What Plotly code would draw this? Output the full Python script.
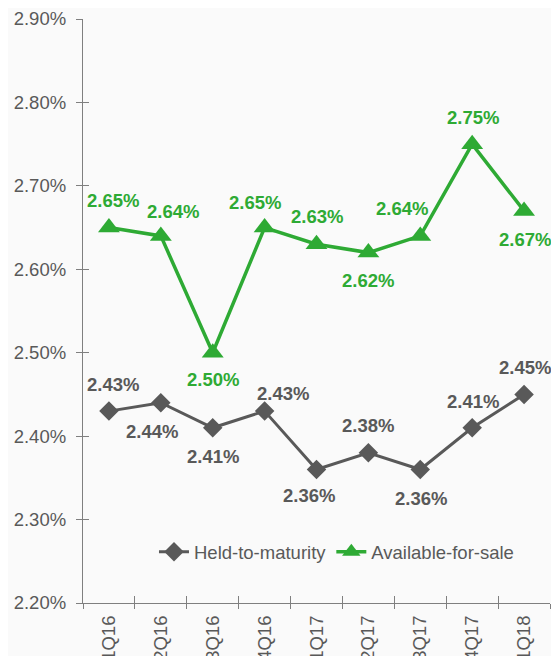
import plotly.graph_objects as go

quarters = ["1Q16", "2Q16", "3Q16", "4Q16", "1Q17", "2Q17", "3Q17", "4Q17", "1Q18"]
held_to_maturity = [2.43, 2.44, 2.41, 2.43, 2.36, 2.38, 2.36, 2.41, 2.45]
available_for_sale = [2.65, 2.64, 2.50, 2.65, 2.63, 2.62, 2.64, 2.75, 2.67]

# label placement (style): pixel nudges of each value label relative to its marker
afs_dx = [4, 12, 0, -10, 0, 0, -18, 1, 1]
afs_dy = [27, 24, -27, 25, 28, -28, 27, 27, -29]
htm_dx = [4, -9, 0, 18, -8, 0, 1, 1, 1]
htm_dy = [27, -29, -29, 18, -26, 27, -29, 26, 27]

GREEN = "#2EAA34"
GRAY = "#595959"
FONT = "Liberation Sans, Arial, sans-serif"

fig = go.Figure()
fig.add_trace(go.Scatter(
    x=quarters, y=held_to_maturity, name="Held-to-maturity",
    mode="lines+markers",
    line=dict(color=GRAY, width=3),
    marker=dict(symbol="diamond", size=15, color=GRAY),
))
fig.add_trace(go.Scatter(
    x=quarters, y=available_for_sale, name="Available-for-sale",
    mode="lines+markers",
    line=dict(color=GREEN, width=3.5),
    marker=dict(symbol="triangle-up", size=19, color=GREEN),
))
# invisible trace on overlay axes to draw the crossing part of tick marks
fig.add_trace(go.Scatter(
    x=quarters, y=held_to_maturity, xaxis="x2", yaxis="y2",
    mode="lines", opacity=0, showlegend=False, hoverinfo="skip",
))

annotations = []
for q, v, dx, dy in zip(quarters, available_for_sale, afs_dx, afs_dy):
    annotations.append(dict(x=q, y=v, text=f"{v:.2f}%", showarrow=False,
                            xshift=dx, yshift=dy,
                            font=dict(family=FONT, size=18.5, color=GREEN, weight="bold")))
for q, v, dx, dy in zip(quarters, held_to_maturity, htm_dx, htm_dy):
    annotations.append(dict(x=q, y=v, text=f"{v:.2f}%", showarrow=False,
                            xshift=dx, yshift=dy,
                            font=dict(family=FONT, size=18.5, color=GRAY, weight="bold")))

yrange = [2.20, 2.90]
ytickvals = [2.2, 2.3, 2.4, 2.5, 2.6, 2.7, 2.8, 2.9]
yticktext = [f"{v:.2f}%" for v in ytickvals]

fig.update_layout(
    width=551, height=648,
    margin=dict(l=75, r=9, t=11, b=53, autoexpand=False),
    paper_bgcolor="#FAFAFA", plot_bgcolor="#FAFAFA",
    font=dict(family=FONT, color=GRAY, size=18),
    showlegend=True,
    legend=dict(orientation="h", x=0.152, y=0.087, xanchor="left", yanchor="middle",
                bgcolor="rgba(0,0,0,0)", font=dict(size=18.5, color=GRAY),
                itemwidth=30, tracegroupgap=0),
    xaxis=dict(type="category", categoryorder="array", categoryarray=quarters,
               showgrid=False, zeroline=False, automargin=False,
               showline=True, linecolor="#7F7F7F", linewidth=1.3,
               ticks="inside", ticklen=7, tickcolor="#7F7F7F", tickson="boundaries",
               tickangle=-90, tickfont=dict(size=18.5, color=GRAY),
               ticklabelstandoff=4, range=[-0.5, 8.5]),
    yaxis=dict(range=yrange, tickvals=ytickvals, ticktext=yticktext,
               showgrid=False, zeroline=False, automargin=False,
               showline=True, linecolor="#7F7F7F", linewidth=1.3,
               ticks="outside", ticklen=6, tickcolor="#7F7F7F",
               ticklabelstandoff=6, tickfont=dict(size=18.5, color=GRAY)),
    xaxis2=dict(type="category", categoryorder="array", categoryarray=quarters,
                overlaying="x", anchor="y2", range=[-0.5, 8.5], automargin=False,
                showgrid=False, zeroline=False, showline=False,
                ticks="outside", ticklen=5, tickcolor="#7F7F7F", tickson="boundaries",
                showticklabels=False, side="bottom"),
    yaxis2=dict(range=yrange, tickvals=ytickvals, overlaying="y", anchor="x2",
                showgrid=False, zeroline=False, showline=False, automargin=False,
                ticks="inside", ticklen=6, tickcolor="#7F7F7F",
                showticklabels=False, side="left"),
    annotations=annotations,
)

fig.write_html("out.html")
